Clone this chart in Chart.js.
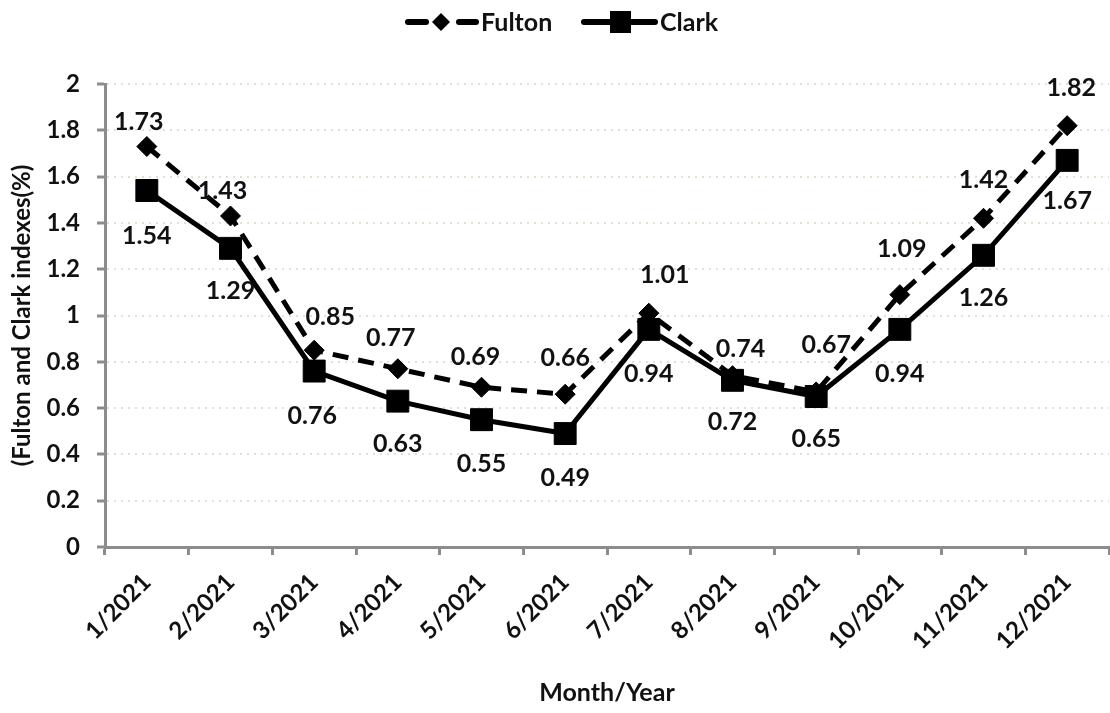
<!DOCTYPE html>
<html><head><meta charset="utf-8">
<script src="https://cdn.jsdelivr.net/npm/chart.js@4"></script>
<style>html,body{margin:0;padding:0;background:#fff}#wrap{width:1110px;height:713px}</style>
</head><body><div id="wrap"><canvas id="c" width="1110" height="713"></canvas></div>
<script>
const categories = ['1/2021','2/2021','3/2021','4/2021','5/2021','6/2021','7/2021','8/2021','9/2021','10/2021','11/2021','12/2021'];
const fultonValues = [1.73, 1.43, 0.85, 0.77, 0.69, 0.66, 1.01, 0.74, 0.67, 1.09, 1.42, 1.82];
const clarkValues  = [1.54, 1.29, 0.76, 0.63, 0.55, 0.49, 0.94, 0.72, 0.65, 0.94, 1.26, 1.67];
const yTickValues  = [0, 0.2, 0.4, 0.6, 0.8, 1, 1.2, 1.4, 1.6, 1.8, 2];
const seriesNames  = ['Fulton', 'Clark'];

const FONT = 'Lato';
const TXT = '#111';
const AXIS = '#8c8c8c';
const GRID = '#e4e0cf';

// label placement relative to each point [dx, dy]
const fultonLabelOffsets = [[-8,-25],[-8,-25],[16,-33],[-7,-31],[-6,-30],[0,-36],[16,-38],[8,-27],[10,-47],[2,-46],[0,-38],[4,-38]];
const clarkLabelOffsets  = [[0,45],[0,43],[-2,45],[0,43],[0,44],[0,44],[0,45],[0,42],[0,42],[0,45],[0,43],[0,41]];

const valueLabels = {
  id: 'valueLabels',
  afterDatasetsDraw(chart, args, opts) {
    const ctx = chart.ctx;
    ctx.save();
    ctx.font = 'bold 25px ' + FONT;
    ctx.fillStyle = TXT;
    ctx.textAlign = 'center';
    ctx.textBaseline = 'middle';
    chart.data.datasets.forEach((ds, di) => {
      const meta = chart.getDatasetMeta(di);
      const offs = opts.offsets[di];
      meta.data.forEach((pt, i) => {
        const o = offs[i];
        ctx.fillText(ds.data[i].toFixed(2), pt.x + o[0], pt.y + o[1]);
      });
    });
    ctx.restore();
  }
};

const customLegend = {
  id: 'customLegend',
  afterDraw(chart) {
    const ctx = chart.ctx;
    const y = 22;
    ctx.save();
    ctx.strokeStyle = '#000';
    ctx.fillStyle = '#000';
    ctx.lineWidth = 6;
    ctx.lineCap = 'round';
    // Fulton: dashed line + diamond
    ctx.beginPath(); ctx.moveTo(408, y); ctx.lineTo(426, y); ctx.stroke();
    ctx.beginPath(); ctx.moveTo(459, y); ctx.lineTo(476, y); ctx.stroke();
    ctx.beginPath();
    ctx.moveTo(441, y - 9); ctx.lineTo(450, y); ctx.lineTo(441, y + 9); ctx.lineTo(432, y); ctx.closePath(); ctx.fill();
    // Clark: solid line + square
    ctx.beginPath(); ctx.moveTo(584, y); ctx.lineTo(655, y); ctx.stroke();
    ctx.fillRect(610, y - 11, 21, 22);
    ctx.font = 'bold 25px ' + FONT;
    ctx.fillStyle = TXT;
    ctx.textAlign = 'left';
    ctx.textBaseline = 'middle';
    ctx.fillText(seriesNames[0], 481, y + 1);
    ctx.fillText(seriesNames[1], 660, y + 1);
    ctx.restore();
  }
};

const zeroSide = s => { s.paddingLeft = 0; s.paddingRight = 0; };

new Chart(document.getElementById('c'), {
  type: 'line',
  data: {
    labels: categories,
    datasets: [
      {
        label: seriesNames[0], data: fultonValues,
        borderColor: '#000', backgroundColor: '#000', borderWidth: 5, borderDash: [16, 10], tension: 0,
        pointStyle: 'rectRot', pointRadius: 10, pointHoverRadius: 10,
        pointBackgroundColor: '#000', pointBorderColor: '#000', pointBorderWidth: 1
      },
      {
        label: seriesNames[1], data: clarkValues,
        borderColor: '#000', backgroundColor: '#000', borderWidth: 5, tension: 0,
        pointStyle: 'rect', pointRadius: 15.5, pointHoverRadius: 15.5,
        pointBackgroundColor: '#000', pointBorderColor: '#000', pointBorderWidth: 1
      }
    ]
  },
  options: {
    responsive: false,
    animation: false,
    devicePixelRatio: 1,
    layout: { autoPadding: false, padding: { top: 84, right: 1, bottom: 0, left: 0 } },
    plugins: {
      legend: { display: false },
      tooltip: { enabled: false },
      valueLabels: { offsets: [fultonLabelOffsets, clarkLabelOffsets] }
    },
    scales: {
      x: {
        type: 'category',
        offset: true,
        grid: { display: true, drawOnChartArea: false, drawTicks: true, tickLength: 8, tickColor: AXIS, tickWidth: 3, offset: true },
        border: { display: true, color: AXIS, width: 3 },
        ticks: { color: TXT, font: { family: FONT, size: 24, weight: 'bold' }, maxRotation: 45, minRotation: 45, padding: 13, autoSkip: false },
        title: { display: true, text: 'Month/Year', color: TXT, font: { family: FONT, size: 25, weight: 'bold' }, padding: { top: 0, bottom: 5 } },
        afterFit: s => { s.height = 166; zeroSide(s); }
      },
      y: {
        min: 0,
        max: 2,
        afterBuildTicks: s => { s.ticks = yTickValues.map(v => ({ value: v })); },
        ticks: { color: TXT, font: { family: FONT, size: 24, weight: 'bold' }, padding: 17, callback: v => String(+(+v).toFixed(1)) },
        grid: {
          color: c => (c.tick && c.tick.value === 0) ? 'rgba(0,0,0,0)' : GRID,
          lineWidth: 2, drawTicks: true, tickLength: 8, tickColor: AXIS, tickWidth: 3
        },
        border: { display: true, color: AXIS, width: 3, dash: [2, 5] },
        title: { display: true, text: '(Fulton and Clark indexes(%)', color: TXT, font: { family: FONT, size: 24, weight: 'bold' }, padding: { top: 8, bottom: 0 } },
        afterFit: s => { s.width = 105; zeroSide(s); }
      }
    }
  },
  plugins: [valueLabels, customLegend]
});
</script>
</body></html>
